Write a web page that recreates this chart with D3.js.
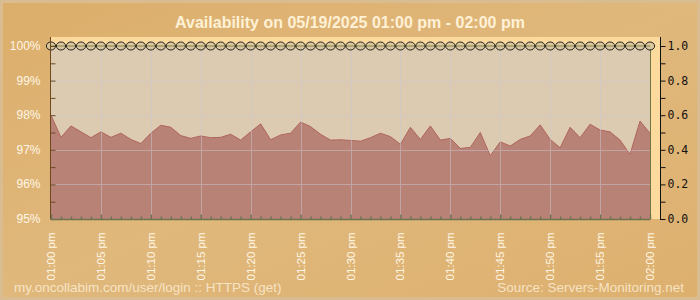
<!DOCTYPE html>
<meta charset='utf-8'>
<style>
  body { margin: 0; background: #dfb574; }
  #viz svg { display: block; }
  .title { font-family: 'Liberation Sans', Arial, sans-serif; font-size: 16px; font-weight: bold; fill: #fff1d6; }
  .axisL text { font-family: 'Liberation Sans', Arial, sans-serif; font-size: 12px; fill: #fff6e4; }
  .axisR text { font-family: 'DejaVu Sans Mono', monospace; font-size: 11.5px; fill: #111; }
  .axisB text { font-family: 'Liberation Sans', Arial, sans-serif; font-size: 11.5px; fill: #fff6e4; }
  .foot { font-family: 'Liberation Sans', Arial, sans-serif; font-size: 13.5px; fill: #fbecd2; opacity: 0.85; }
</style>
<body>
<div id='viz'></div>
<script src='https://d3js.org/d3.v7.min.js'></script>
<script>

// Availability (%) sampled once a minute, 01:00 pm -> 02:00 pm
var minutes = d3.range(0, 61);
var availability = [98.00, 97.36, 97.69, 97.52, 97.35, 97.52, 97.36, 97.48, 97.30, 97.18,
                    97.48, 97.71, 97.65, 97.41, 97.33, 97.40, 97.35, 97.36, 97.45, 97.28,
                    97.52, 97.75, 97.29, 97.43, 97.48, 97.80, 97.67, 97.45, 97.28, 97.29,
                    97.27, 97.25, 97.35, 97.48, 97.38, 97.16, 97.65, 97.30, 97.69, 97.28,
                    97.33, 97.04, 97.07, 97.50, 96.83, 97.23, 97.11, 97.30, 97.40, 97.72,
                    97.30, 97.06, 97.65, 97.35, 97.74, 97.57, 97.52, 97.28, 96.87, 97.83,
                    97.48];
// Up status (1 = up) for each minute
var upStatus = minutes.map(function(){ return 1; });

var leftTicks  = [95, 96, 97, 98, 99, 100];
var rightTicks = [0, 0.2, 0.4, 0.6, 0.8, 1.0];
var timeLabels = ['01:00 pm', '01:05 pm', '01:10 pm', '01:15 pm', '01:20 pm', '01:25 pm', '01:30 pm',
                  '01:35 pm', '01:40 pm', '01:45 pm', '01:50 pm', '01:55 pm', '02:00 pm'];

var W = 700, H = 300;
var plot = {left: 51, right: 650, top: 46, bottom: 219};

var x  = d3.scaleLinear().domain([0, 60]).range([plot.left, plot.right]);
var y  = d3.scaleLinear().domain([95, 100]).range([plot.bottom, plot.top]);
var yr = d3.scaleLinear().domain([0, 1]).range([plot.bottom, plot.top]);

var svg = d3.select('#viz').append('svg').attr('width', W).attr('height', H);

// background gradient + frame
var defs = svg.append('defs');
var grad = defs.append('linearGradient').attr('id', 'bg').attr('x1', 0).attr('y1', 0).attr('x2', 1).attr('y2', 1);
grad.append('stop').attr('offset', 0).attr('stop-color', '#dcae6b');
grad.append('stop').attr('offset', 0.5).attr('stop-color', '#e0b87c');
grad.append('stop').attr('offset', 1).attr('stop-color', '#ddb06e');
svg.append('rect').attr('width', W).attr('height', H).attr('fill', '#d9bd90');
svg.append('rect').attr('x', 3).attr('y', 3).attr('width', W - 6).attr('height', H - 6).attr('fill', 'url(#bg)');

svg.append('text').attr('class', 'title')
    .attr('x', W / 2).attr('y', 28).attr('text-anchor', 'middle')
    .text('Availability on 05/19/2025 01:00 pm - 02:00 pm');

// plot backgrounds
svg.append('rect').attr('x', plot.left).attr('y', 37)
    .attr('width', 660 - plot.left).attr('height', plot.bottom - 37).attr('fill', '#fcd99c');
svg.append('rect').attr('x', plot.left).attr('y', plot.top)
    .attr('width', plot.right - plot.left).attr('height', plot.bottom - plot.top).attr('fill', '#dccbb1');

// area
var area = d3.area()
    .x(function(d, i){ return x(minutes[i]); })
    .y0(plot.bottom)
    .y1(function(d){ return y(d); });
var line = d3.line()
    .x(function(d, i){ return x(minutes[i]); })
    .y(function(d){ return y(d); });

svg.append('path').datum(availability).attr('d', area).attr('fill', '#b98276');
svg.append('path').datum(availability).attr('d', line)
    .attr('fill', 'none').attr('stroke', '#b0655c').attr('stroke-width', 1);

// grid on top, faint
var grid = svg.append('g').attr('stroke', '#c9c9d4').attr('stroke-width', 1).attr('opacity', 0.5);
grid.selectAll('line.h').data(leftTicks.slice(1, 5)).enter().append('line')
    .attr('x1', plot.left).attr('x2', plot.right)
    .attr('y1', function(d){ return Math.round(y(d)) + 0.5; })
    .attr('y2', function(d){ return Math.round(y(d)) + 0.5; });
grid.selectAll('line.v').data(d3.range(5, 60, 5)).enter().append('line')
    .attr('y1', plot.top).attr('y2', plot.bottom)
    .attr('x1', function(d){ return Math.round(x(d)) + 0.5; })
    .attr('x2', function(d){ return Math.round(x(d)) + 0.5; });

// right edge of plot
svg.append('line').attr('x1', plot.right + 0.5).attr('x2', plot.right + 0.5)
    .attr('y1', plot.top).attr('y2', plot.bottom).attr('stroke', '#6f7440');

// up-status line with markers
svg.append('path').datum(upStatus)
    .attr('d', d3.line().x(function(d, i){ return x(minutes[i]); }).y(function(d){ return yr(d); }))
    .attr('fill', 'none').attr('stroke', '#4a4a20').attr('stroke-width', 1);
svg.append('g').selectAll('ellipse').data(upStatus).enter().append('ellipse')
    .attr('cx', function(d, i){ return x(minutes[i]); })
    .attr('cy', function(d){ return yr(d); })
    .attr('rx', 4.6).attr('ry', 4)
    .attr('fill', '#d8c69c').attr('fill-opacity', 0.9).attr('stroke', '#111').attr('stroke-width', 0.9);
svg.append('path').datum(upStatus)
    .attr('d', d3.line().x(function(d, i){ return x(minutes[i]); }).y(function(d){ return yr(d); }))
    .attr('fill', 'none').attr('stroke', '#4a4a20').attr('stroke-width', 0.8).attr('opacity', 0.6);

// left axis
var axisL = svg.append('g').attr('class', 'axisL').attr('transform', 'translate(' + (plot.left - 0.5) + ',0)');
axisL.call(d3.axisRight(y).tickValues(d3.range(95, 100.01, 0.5)).tickSize(5).tickFormat(''));
axisL.selectAll('path, line').attr('stroke', '#6b4a22');
axisL.select('.domain').attr('d', 'M0,' + 37 + 'V' + plot.bottom);
axisL.selectAll('text.lab').data(leftTicks).enter().append('text')
    .attr('class', 'lab').attr('x', -10).attr('y', function(d){ return y(d) + 4; })
    .attr('text-anchor', 'end').text(function(d){ return d + '%'; });

// right axis
var axisR = svg.append('g').attr('class', 'axisR').attr('transform', 'translate(660.5,0)');
axisR.call(d3.axisRight(yr).tickValues(d3.range(0, 1.01, 0.1)).tickSize(5).tickFormat(''));
axisR.selectAll('path, line').attr('stroke', '#111');
axisR.select('.domain').attr('d', 'M0,37V' + (plot.bottom + 1));
axisR.selectAll('text.lab').data(rightTicks).enter().append('text')
    .attr('class', 'lab').attr('x', 7).attr('y', function(d){ return yr(d) + 4; })
    .text(function(d){ return d.toFixed(1); });

// bottom axis
var axisB = svg.append('g').attr('class', 'axisB').attr('transform', 'translate(0,' + (plot.bottom + 0.5) + ')');
axisB.call(d3.axisTop(x).tickValues(minutes).tickSize(3).tickFormat(''));
axisB.selectAll('.tick line').attr('stroke-width', 1.4)
    .attr('y2', function(d){ return d % 5 === 0 ? -5 : -3; });
axisB.selectAll('path, line').attr('stroke', '#6b7350');
axisB.select('.domain').attr('stroke-width', 1.6).attr('d', 'M' + plot.left + ',0H' + plot.right);
axisB.selectAll('text.lab').data(timeLabels).enter().append('text')
    .attr('class', 'lab')
    .attr('transform', function(d, i){ return 'translate(' + (x(i * 5) + 4) + ',13) rotate(-90)'; })
    .attr('text-anchor', 'end').text(function(d){ return d; });

// footer
svg.append('text').attr('class', 'foot').attr('x', 14).attr('y', 292)
    .text('my.oncollabim.com/user/login :: HTTPS (get)');
svg.append('text').attr('class', 'foot').attr('x', 684).attr('y', 292).attr('text-anchor', 'end')
    .text('Source: Servers-Monitoring.net');

</script>
</body>
